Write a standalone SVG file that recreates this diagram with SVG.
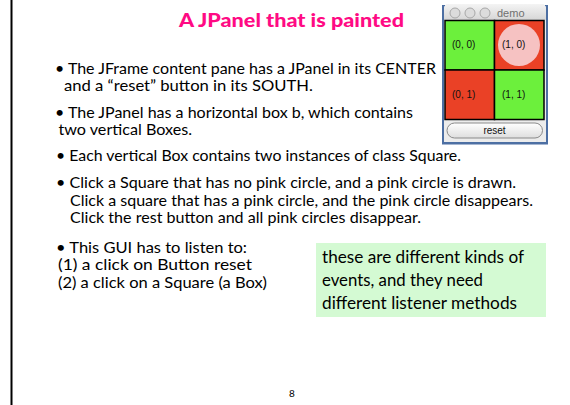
<svg xmlns="http://www.w3.org/2000/svg" width="570" height="405" viewBox="0 0 570 405">
<style>
.t{font-family:Lato,"Open Sans","Noto Sans",sans-serif;font-size:15px;fill:#000}
.g{font-family:Lato,"Open Sans","Noto Sans",sans-serif;font-size:17.5px;fill:#000}
.w{font-family:"Liberation Sans",Arial,sans-serif;font-size:10px;fill:#111}
.sq{stroke:#000;stroke-width:1.5}
.gr{fill:#6cf03c}
.rd{fill:#ea4126}
.tl{fill:#dcdcdc;stroke:#a8a8a8;stroke-width:1}
</style>
<defs>
<linearGradient id="tb" x1="0" y1="0" x2="0" y2="1">
<stop offset="0" stop-color="#f4f4f4"/><stop offset="1" stop-color="#d6d6d6"/>
</linearGradient>
<linearGradient id="btn" x1="0" y1="0" x2="0" y2="1">
<stop offset="0" stop-color="#ffffff"/><stop offset="1" stop-color="#dedede"/>
</linearGradient>
</defs>
<rect width="570" height="405" fill="#fff"/>
<line x1="11.5" y1="0" x2="11.5" y2="405" stroke="#000" stroke-width="2"/>

<g id="title">
<text x="179" y="26.5" textLength="225" lengthAdjust="spacingAndGlyphs" style="font-family:Lato,'Open Sans',sans-serif;font-weight:900;font-size:18px;fill:#ff0a84">A JPanel that is painted</text>
</g>

<g id="bullets">
<text class="t" x="55" y="74" textLength="381" lengthAdjust="spacingAndGlyphs">• The JFrame content pane has a JPanel in its CENTER</text>
<text class="t" x="64" y="90.5" textLength="249" lengthAdjust="spacingAndGlyphs">and a “reset” button in its SOUTH.</text>
<text class="t" x="55" y="118" textLength="358" lengthAdjust="spacingAndGlyphs">• The JPanel has a horizontal box b, which contains</text>
<text class="t" x="58.5" y="135" textLength="133.5" lengthAdjust="spacingAndGlyphs">two vertical Boxes.</text>
<text class="t" x="56" y="160.5" textLength="405" lengthAdjust="spacingAndGlyphs">• Each vertical Box contains two instances of class Square.</text>
<text class="t" x="56" y="188" textLength="460" lengthAdjust="spacingAndGlyphs">• Click a Square that has no pink circle, and a pink circle is drawn.</text>
<text class="t" x="70" y="205.5" textLength="463" lengthAdjust="spacingAndGlyphs">Click a square that has a pink circle, and the pink circle disappears.</text>
<text class="t" x="70" y="223" textLength="351" lengthAdjust="spacingAndGlyphs">Click the rest button and all pink circles disappear.</text>
<text class="t" x="56" y="252.5" textLength="191" lengthAdjust="spacingAndGlyphs">• This GUI has to listen to:</text>
<text class="t" x="58" y="270" textLength="194" lengthAdjust="spacingAndGlyphs">(1) a click on Button reset</text>
<text class="t" x="58" y="288" textLength="209" lengthAdjust="spacingAndGlyphs">(2) a click on a Square (a Box)</text>
</g>

<g id="note">
<rect x="316" y="243" width="230" height="74" fill="#d4fad3"/>
<text class="g" x="322" y="263" textLength="202" lengthAdjust="spacingAndGlyphs">these are different kinds of</text>
<text class="g" x="322" y="286" textLength="161" lengthAdjust="spacingAndGlyphs">events, and they need</text>
<text class="g" x="322" y="309" textLength="195" lengthAdjust="spacingAndGlyphs">different listener methods</text>
</g>

<g id="demo-window">
<rect x="442" y="5" width="106" height="139.5" fill="#4d6fa3"/>
<path d="M444,142 V9 Q444,4 449,4 H541 Q546,4 546,9 V142 Z" fill="#ececec"/>
<path d="M444,20 V9 Q444,4 449,4 H541 Q546,4 546,9 V20 Z" fill="url(#tb)"/>
<circle class="tl" cx="455" cy="13" r="5"/>
<circle class="tl" cx="470" cy="13" r="5"/>
<circle class="tl" cx="485" cy="13" r="5"/>
<text x="497" y="17" style="font-family:'Liberation Sans',Arial,sans-serif;font-size:11px;fill:#707070">demo</text>
<g id="sq00"><rect class="sq gr" x="445" y="20.5" width="49.5" height="49.5"/><text class="w" x="452" y="48">(0, 0)</text></g>
<g id="sq10"><rect class="sq rd" x="494.5" y="20.5" width="49.5" height="49.5"/><circle cx="519" cy="45" r="21" fill="#f6c2c2"/><text class="w" x="502" y="48">(1, 0)</text></g>
<g id="sq01"><rect class="sq rd" x="445" y="70" width="49.5" height="49.5"/><text class="w" x="452" y="98">(0, 1)</text></g>
<g id="sq11"><rect class="sq gr" x="494.5" y="70" width="49.5" height="49.5"/><text class="w" x="502" y="98">(1, 1)</text></g>
<g id="reset"><rect x="447" y="123" width="95.5" height="15" rx="7.5" fill="url(#btn)" stroke="#8a8a8a" stroke-width="1"/><text class="w" x="494.5" y="134" text-anchor="middle">reset</text></g>
</g>

<g id="page-number">
<text x="292" y="397" text-anchor="middle" style="font-family:Lato,'Open Sans',sans-serif;font-size:10px;fill:#000">8</text>
</g>
</svg>
